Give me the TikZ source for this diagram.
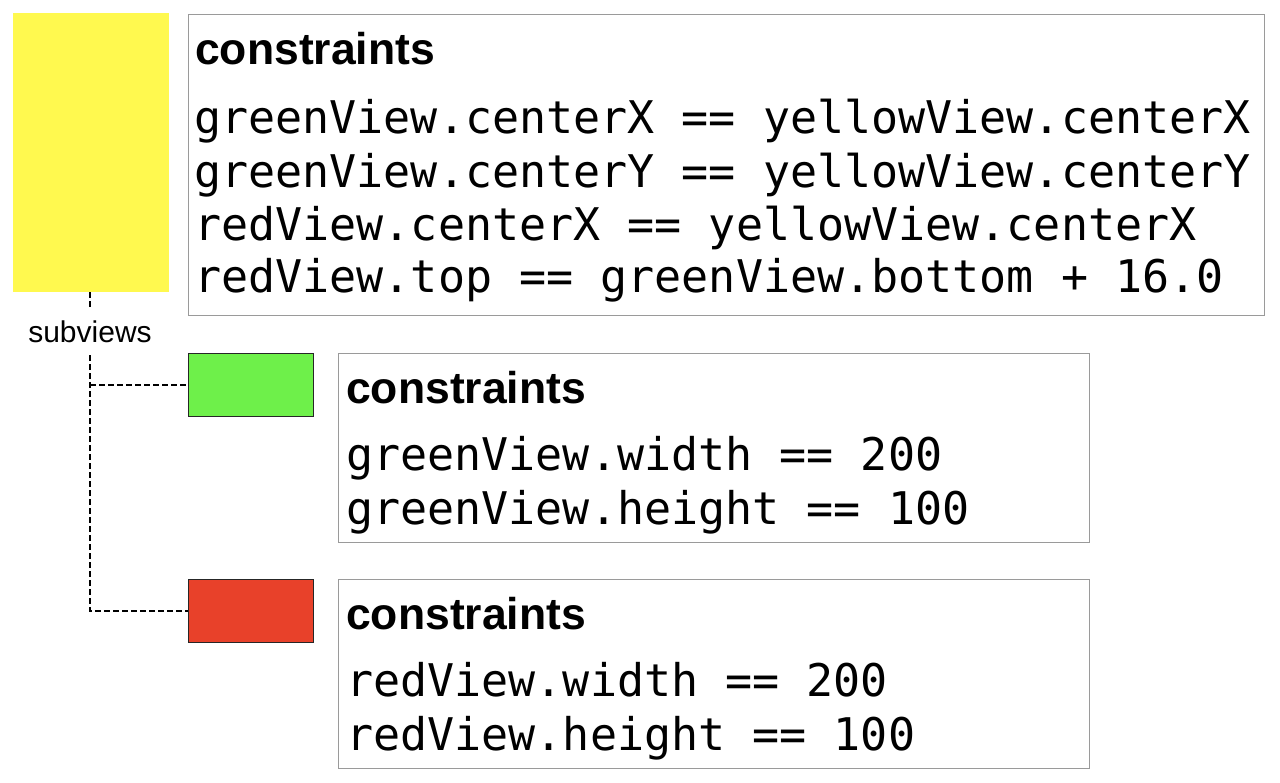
\documentclass[tikz,border=0pt]{standalone}
\usepackage{fontspec}
\setmainfont{Liberation Sans}
\newfontfamily\codefont{DejaVu Sans Mono}
\definecolor{viewyellow}{HTML}{FFF94F}
\definecolor{viewgreen}{HTML}{6EF04A}
\definecolor{viewred}{HTML}{E8412A}
\definecolor{boxgray}{HTML}{9A9A9A}
\begin{document}
\begin{tikzpicture}[x=1pt,y=-1pt,
  panel/.style={draw=boxgray,line width=1.4pt,fill=white,anchor=north west,inner sep=0pt},
  viewrect/.style={anchor=north west,inner sep=0pt,minimum width=125pt,minimum height=63pt},
  heading/.style={anchor=base west,inner sep=0pt,font=\fontsize{44.5}{50}\selectfont\bfseries},
  code/.style={anchor=base west,inner sep=0pt,font=\codefont\fontsize{45}{54}\selectfont},
  tree/.style={line width=2pt,dash pattern=on 6pt off 3pt,black}]
\useasboundingbox[fill=white] (0,0) rectangle (1280,782);

% superview
\node[viewrect,fill=viewyellow,minimum width=156pt,minimum height=279pt] (yellow) at (13,13) {};
\node[panel,minimum width=1076pt,minimum height=301pt] (box1) at (188,14) {};
\node[heading] (h1) at (195,64) {constraints};
\node[code] (c11) at (194,133) {greenView.centerX == yellowView.centerX};
\node[code] (c12) at (194,187) {greenView.centerY == yellowView.centerY};
\node[code] (c13) at (194,240) {redView.centerX == yellowView.centerX};
\node[code] (c14) at (194,292) {redView.top == greenView.bottom + 16.0};

% subview label
\node[anchor=base,inner xsep=0pt,inner ysep=13pt,text height=22pt,text depth=0pt,
      font=\fontsize{30}{35}\selectfont] (sub) at (90,342) {subviews};

% green subview
\node[viewrect,draw=black!85,line width=1.2pt,fill=viewgreen] (green) at (188,353) {};
\node[panel,minimum width=751pt,minimum height=189pt] (box2) at (338,353) {};
\node[heading] (h2) at (346,403) {constraints};
\node[code] (c21) at (346,470) {greenView.width == 200};
\node[code] (c22) at (346,524) {greenView.height == 100};

% red subview
\node[viewrect,draw=black!85,line width=1.2pt,fill=viewred] (red) at (188,579) {};
\node[panel,minimum width=751pt,minimum height=189pt] (box3) at (338,579) {};
\node[heading] (h3) at (346,629) {constraints};
\node[code] (c31) at (346,696) {redView.width == 200};
\node[code] (c32) at (346,750) {redView.height == 100};

% hierarchy connectors
\draw[tree] (sub.north |- yellow.south) -- (sub.north);
\draw[tree] (sub.south) -- (sub.south |- red.west) -- (red.west);
\draw[tree] (sub.south |- green.west) -- (green.west);
\end{tikzpicture}
\end{document}
